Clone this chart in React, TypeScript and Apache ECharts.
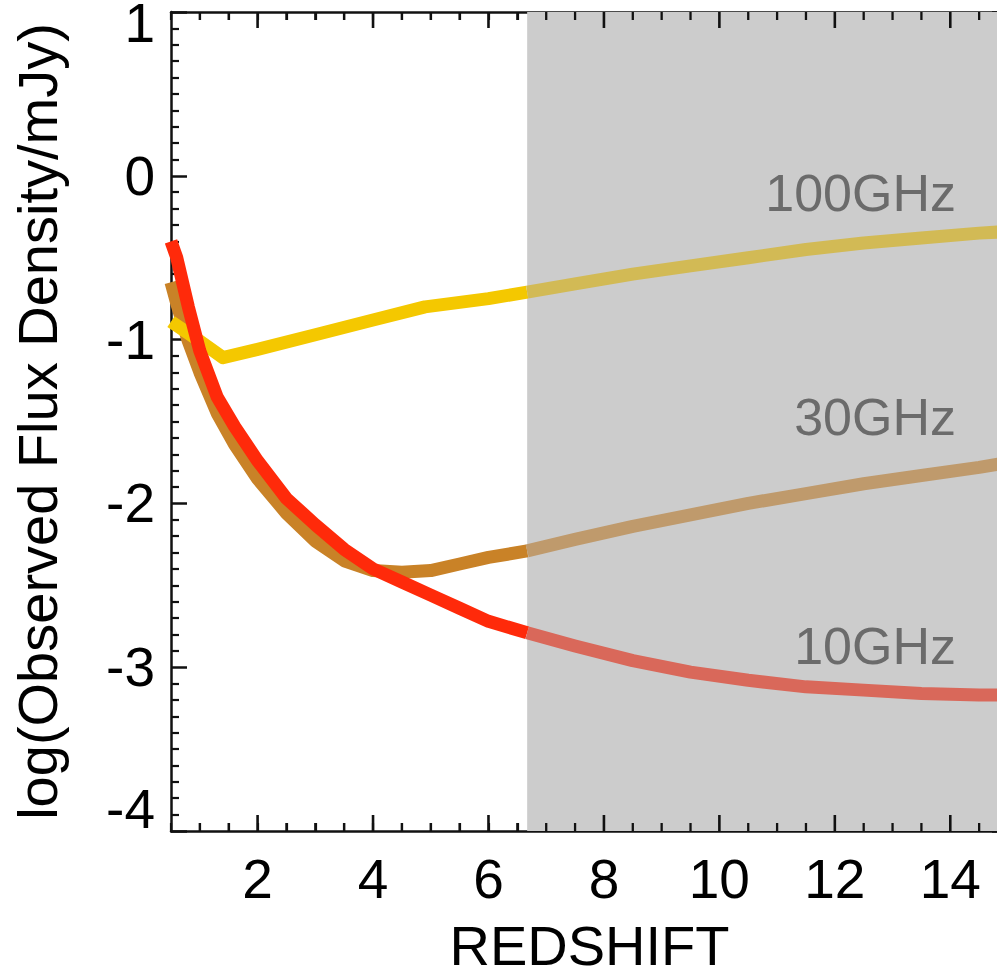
import React, { useEffect, useRef } from "react";
import * as echarts from "echarts";

// Redshift grid (shared by the 10 GHz and 30 GHz curves)
const Z = [0.5, 0.6, 0.8, 1.0, 1.3, 1.6, 2.0, 2.5, 3.0, 3.5, 4.0, 4.5, 5.0, 5.5, 6.0, 6.67, 7.5, 8.5, 9.5, 10.5, 11.5, 12.5, 13.5, 14.5, 15];
const FLUX_10GHZ = [-0.4, -0.5, -0.8, -1.07, -1.35, -1.53, -1.74, -1.97, -2.13, -2.28, -2.4, -2.48, -2.56, -2.64, -2.72, -2.79, -2.87, -2.96, -3.03, -3.08, -3.12, -3.14, -3.16, -3.17, -3.17];
const FLUX_30GHZ = [-0.65, -0.78, -1.01, -1.2, -1.45, -1.64, -1.85, -2.06, -2.23, -2.35, -2.41, -2.42, -2.41, -2.37, -2.33, -2.29, -2.22, -2.14, -2.07, -2.0, -1.94, -1.88, -1.83, -1.78, -1.75];
// 100 GHz curve has its own grid (sharp minimum near z = 1.4)
const Z_100 = [0.5, 1.0, 1.4, 2.0, 3.0, 4.0, 4.9, 6.0, 6.67, 7.5, 8.5, 9.5, 10.5, 11.5, 12.5, 13.5, 14.5, 15];
const FLUX_100GHZ = [-0.89, -1.01, -1.11, -1.06, -0.97, -0.88, -0.8, -0.75, -0.71, -0.66, -0.6, -0.55, -0.5, -0.45, -0.41, -0.38, -0.35, -0.34];

const X_MAJOR_TICKS = [2, 4, 6, 8, 10, 12, 14];
const X_TICK_VALUES = [1, 1.5, 2, 2.5, 3, 3.5, 4, 4.5, 5, 5.5, 6, 6.5, 7, 7.5, 8, 8.5, 9, 9.5, 10, 10.5, 11, 11.5, 12, 12.5, 13, 13.5, 14, 14.5];
const X_MIN = 0.5;
const X_MAX = 15;
const Y_MIN = -4;
const Y_MAX = 1;
const SHADE_START = 6.67;

const LABELS = ["100GHz", "30GHz", "10GHz"];
const LABEL_Z = [14.1, 14.1, 14.1];
const LABEL_FLUX = [-0.108, -1.473, -2.87];

const COLORS = {
  y100: ["#f4c800", "#d2ba55"],
  b30: ["#c98227", "#bf9a6c"],
  r10: ["#ff2a0a", "#d9685a"],
};

const FONT = "Liberation Sans, Arial, Helvetica, sans-serif";
const INK = "#111111";
const TICK_FONT = 55;

function buildOption(): any {
  const plainXAxis = (position: string) => ({
    type: "value",
    position,
    min: X_MIN,
    max: X_MAX,
    interval: 0.5,
    axisLine: { show: true, onZero: false, lineStyle: { color: INK, width: 2.5 } },
    axisTick: { show: true, inside: true, length: 8, lineStyle: { color: INK, width: 2.2 } },
    axisLabel: { show: false },
    splitLine: { show: false },
  });
  const labelXAxis = {
    type: "value",
    position: "bottom",
    min: X_MIN,
    max: X_MAX,
    axisLine: { show: false, onZero: false },
    axisTick: { show: false },
    axisLabel: { show: true, customValues: X_MAJOR_TICKS, fontSize: TICK_FONT, fontFamily: FONT, color: "#000", margin: 20 },
    splitLine: { show: false },
    name: "REDSHIFT",
    nameLocation: "middle",
    nameGap: 86,
    nameTextStyle: { fontSize: 56, fontFamily: FONT, color: "#000" },
  };
  const yAxis = (position: string, labels: boolean) => ({
    type: "value",
    position,
    min: Y_MIN,
    max: Y_MAX,
    interval: 1,
    axisLine: { show: true, onZero: false, lineStyle: { color: INK, width: 2.5 } },
    axisTick: { show: true, inside: true, length: 16, lineStyle: { color: INK, width: 2.5 } },
    minorTick: { show: true, splitNumber: 10, length: 8, lineStyle: { color: INK, width: 2.2 } },
    axisLabel: labels
      ? {
          show: true,
          showMinLabel: true,
          showMaxLabel: true,
          fontSize: TICK_FONT,
          fontFamily: FONT,
          color: "#000",
          margin: 16,
          verticalAlignMinLabel: "bottom",
          verticalAlignMaxLabel: "top",
          formatter: (v: number) => (v === Y_MAX ? `{top|${v}}` : v === Y_MIN ? `{bot|${v}}` : `${v}`),
          rich: {
            top: { fontSize: TICK_FONT, fontFamily: FONT, color: "#000", lineHeight: 22 },
            bot: { fontSize: TICK_FONT, fontFamily: FONT, color: "#000", lineHeight: 44 },
          },
        }
      : { show: false },
    splitLine: { show: false },
    minorSplitLine: { show: false },
    name: labels ? "log(Observed Flux Density/mJy)" : "",
    nameLocation: "middle",
    nameGap: 106,
    nameTextStyle: { fontSize: 56, fontFamily: FONT, color: "#000" },
  });

  const lineSeries = (name: string, zs: number[], vals: number[], color: string, part: "in" | "out") => {
    const pts = zs.map((z, i) => [z, vals[i]]).filter((p) => (part === "in" ? p[0] <= SHADE_START : p[0] >= SHADE_START));
    return {
      name: name + "-" + part,
      type: "line",
      xAxisIndex: 0,
      yAxisIndex: 0,
      data: pts,
      showSymbol: false,
      symbol: "none",
      silent: true,
      z: 3,
      lineStyle: { width: 13, color, cap: "butt", join: "round" },
    };
  };

  const shadeSeries = {
    type: "custom",
    xAxisIndex: 0,
    yAxisIndex: 0,
    silent: true,
    z: 1,
    data: [[SHADE_START, X_MAX]],
    renderItem: (params: any, api: any) => {
      const p0 = api.coord([api.value(0), Y_MAX]);
      const p1 = api.coord([api.value(1), Y_MIN]);
      return { type: "rect", shape: { x: p0[0], y: p0[1], width: p1[0] - p0[0], height: p1[1] - p0[1] }, style: { fill: "#cccccc" } };
    },
  };

  // x-axis ticks (bottom side 0, top side 1), placed through the axis scale
  const tickItems: number[][] = [];
  X_TICK_VALUES.forEach((v) => {
    const major = X_MAJOR_TICKS.indexOf(v) >= 0 ? 1 : 0;
    tickItems.push([v, Y_MIN, major, 0]);
    tickItems.push([v, Y_MAX, major, 1]);
  });
  const xTickSeries = {
    type: "custom",
    xAxisIndex: 0,
    yAxisIndex: 0,
    silent: true,
    z: 2,
    data: tickItems,
    renderItem: (params: any, api: any) => {
      const major = api.value(2) === 1;
      const top = api.value(3) === 1;
      const len = major ? 16 : 8;
      const lw = major ? 2.6 : 2.3;
      const p = api.coord([api.value(0), api.value(1)]);
      return {
        type: "rect",
        shape: { x: p[0] - lw / 2, y: top ? p[1] : p[1] - len, width: lw, height: len },
        style: { fill: INK },
      };
    },
  };

  const labelSeries = {
    type: "custom",
    xAxisIndex: 0,
    yAxisIndex: 0,
    silent: true,
    z: 4,
    data: LABELS.map((t, i) => [LABEL_Z[i], LABEL_FLUX[i], i]),
    renderItem: (params: any, api: any) => {
      const p = api.coord([api.value(0), api.value(1)]);
      return {
        type: "text",
        x: p[0],
        y: p[1],
        style: { text: LABELS[api.value(2)], align: "right", verticalAlign: "middle", fontSize: 52, fontFamily: FONT, fill: "#6b6b6b" },
      };
    },
  };

  return {
    animation: false,
    backgroundColor: "#ffffff",
    grid: { left: 171, top: 12, right: -11, bottom: 142, containLabel: false, outerBoundsMode: "none" },
    xAxis: [plainXAxis("bottom"), labelXAxis, plainXAxis("top")],
    yAxis: [yAxis("left", true), yAxis("right", false)],
    series: [
      shadeSeries,
      xTickSeries,
      lineSeries("30GHz", Z, FLUX_30GHZ, COLORS.b30[0], "in"),
      lineSeries("30GHz", Z, FLUX_30GHZ, COLORS.b30[1], "out"),
      lineSeries("100GHz", Z_100, FLUX_100GHZ, COLORS.y100[0], "in"),
      lineSeries("100GHz", Z_100, FLUX_100GHZ, COLORS.y100[1], "out"),
      lineSeries("10GHz", Z, FLUX_10GHZ, COLORS.r10[0], "in"),
      lineSeries("10GHz", Z, FLUX_10GHZ, COLORS.r10[1], "out"),
      labelSeries,
    ],
  };
}

export default function App() {
  const ref = useRef<HTMLDivElement>(null);

  useEffect(() => {
    if (!ref.current) return;
    const chart = echarts.init(ref.current, undefined, { renderer: "svg" });
    chart.setOption(buildOption());
    return () => chart.dispose();
  }, []);

  return <div ref={ref} style={{ position: "fixed", left: 0, top: 0, width: 997, height: 973 }} />;
}
